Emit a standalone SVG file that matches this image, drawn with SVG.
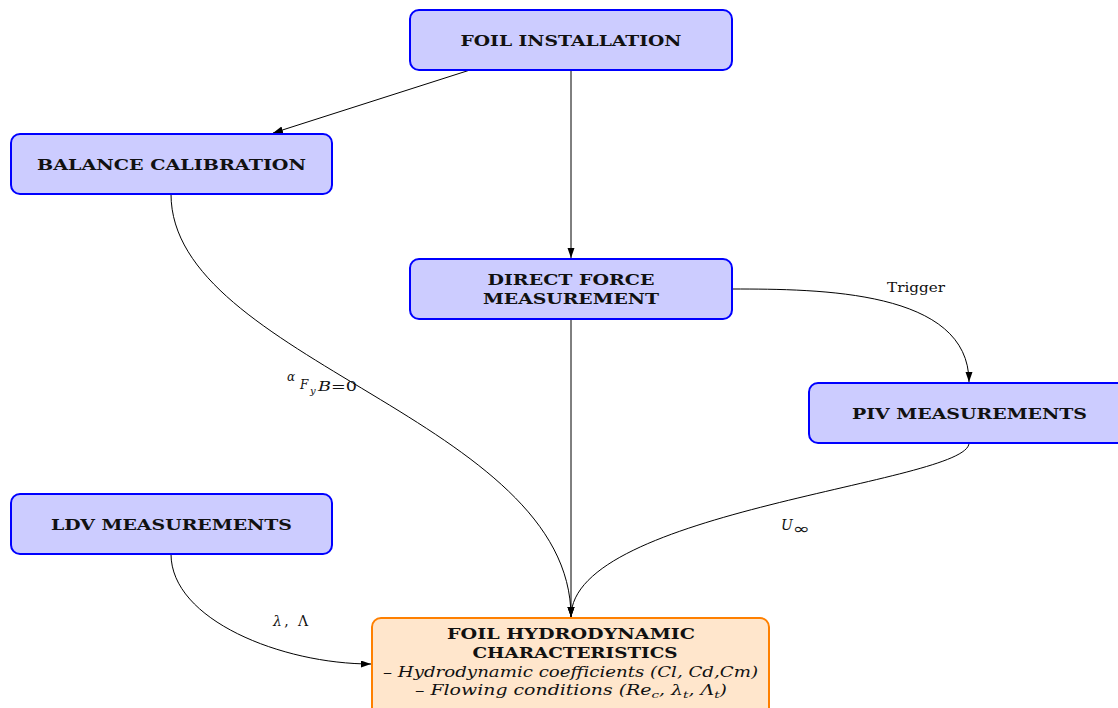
<svg xmlns="http://www.w3.org/2000/svg" width="1118" height="708" viewBox="0 0 1118 708">
<defs>
<style>
.node rect{fill:#ccccff;stroke:#0000ff;stroke-width:2}
.hydro rect{fill:#ffe6cc;stroke:#ff8000;stroke-width:2}
.t{font-family:"DejaVu Serif",serif;font-weight:bold;font-size:15px;fill:#111;text-anchor:middle}
.it{font-family:"DejaVu Serif",serif;font-style:italic;font-size:14px;fill:#111;text-anchor:middle}
.lbl{font-family:"DejaVu Serif",serif;font-size:13px;fill:#111}
.m{font-family:"DejaVu Serif",serif;font-style:italic;fill:#111}
.edges path,.edges line{fill:none;stroke:#000;stroke-width:1}
</style>
<marker id="arr" markerWidth="10" markerHeight="8" refX="10" refY="3.5" orient="auto" markerUnits="userSpaceOnUse">
<path d="M0,0 L10,3.5 L0,7 Z" fill="#000"/>
</marker>
</defs>
<rect width="1118" height="708" fill="#fff"/>

<g class="edges">
<line x1="470" y1="70" x2="273" y2="133" marker-end="url(#arr)"/>
<line x1="571" y1="70" x2="571" y2="258" marker-end="url(#arr)"/>
<path d="M171,194 C171,360 571,420 571,617" marker-end="url(#arr)"/>
<line x1="571" y1="319" x2="571" y2="617" marker-end="url(#arr)"/>
<path d="M732,289 C820,289 969,290 969,382" marker-end="url(#arr)"/>
<path d="M969,443 C969,483 571,510 571,617" marker-end="url(#arr)"/>
<path d="M171,554 C171,620 282,664 371,664" marker-end="url(#arr)"/>
</g>

<g id="edge-labels">
<text class="lbl" x="887" y="292" textLength="58" lengthAdjust="spacingAndGlyphs">Trigger</text>
<text class="m" x="287" y="381" font-size="12">α</text>
<text class="m" x="300" y="389" font-size="12">F</text>
<text class="m" x="310" y="394" font-size="10">y</text>
<text class="m" x="318" y="391" font-size="12" textLength="39" lengthAdjust="spacingAndGlyphs">B<tspan font-style="normal">=0</tspan></text>
<text class="m" x="781" y="530" font-size="14">U</text>
<text x="793" y="534" font-family="'DejaVu Sans',sans-serif" font-size="15" fill="#111" textLength="17" lengthAdjust="spacingAndGlyphs">∞</text>
<text class="m" x="273" y="626" font-size="14" textLength="35" lengthAdjust="spacing">λ<tspan font-style="normal">, Λ</tspan></text>
</g>

<g id="foil-installation" class="node">
<rect x="410" y="10" width="322" height="60" rx="9"/>
<text class="t" x="571" y="46" textLength="221" lengthAdjust="spacingAndGlyphs">FOIL INSTALLATION</text>
</g>
<g id="balance-calibration" class="node">
<rect x="11" y="134" width="321" height="60" rx="9"/>
<text class="t" x="171.5" y="170" textLength="269" lengthAdjust="spacingAndGlyphs">BALANCE CALIBRATION</text>
</g>
<g id="direct-force" class="node">
<rect x="410" y="259" width="322" height="60" rx="9"/>
<text class="t" x="571" y="284.5" textLength="167" lengthAdjust="spacingAndGlyphs">DIRECT FORCE</text>
<text class="t" x="571" y="304" textLength="176" lengthAdjust="spacingAndGlyphs">MEASUREMENT</text>
</g>
<g id="piv" class="node">
<rect x="809" y="383" width="322" height="60" rx="9"/>
<text class="t" x="969.5" y="419" textLength="235" lengthAdjust="spacingAndGlyphs">PIV MEASUREMENTS</text>
</g>
<g id="ldv" class="node">
<rect x="11" y="494" width="321" height="60" rx="9"/>
<text class="t" x="171.5" y="530" textLength="241" lengthAdjust="spacingAndGlyphs">LDV MEASUREMENTS</text>
</g>
<g id="hydro" class="hydro">
<rect x="372" y="618" width="397" height="100" rx="9"/>
<text class="t" x="571" y="638.5" textLength="248" lengthAdjust="spacingAndGlyphs">FOIL HYDRODYNAMIC</text>
<text class="t" x="575" y="657.5" textLength="205" lengthAdjust="spacingAndGlyphs">CHARACTERISTICS</text>
<text class="it" x="570.5" y="676.5" textLength="375" lengthAdjust="spacingAndGlyphs">– Hydrodynamic coefficients (Cl, Cd,Cm)</text>
<text class="it" x="571" y="695" textLength="312" lengthAdjust="spacingAndGlyphs">– Flowing conditions (Re<tspan font-size="10" dy="3">c</tspan><tspan dy="-3">, λ</tspan><tspan font-size="10" dy="3">t</tspan><tspan dy="-3">, Λ</tspan><tspan font-size="10" dy="3">t</tspan><tspan dy="-3">)</tspan></text>
</g>
</svg>
